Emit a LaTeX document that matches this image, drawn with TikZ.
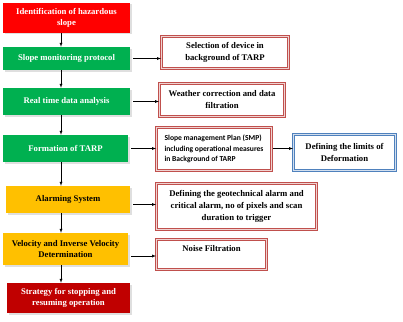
\documentclass[tikz,border=0pt]{standalone}
\usepackage{fontspec}
\setmainfont{Liberation Serif}
\newfontfamily\smpfont{Carlito}
\usetikzlibrary{shadows}
\definecolor{hazardred}{HTML}{FF0000}
\definecolor{stepgreen}{HTML}{00B050}
\definecolor{alarmyellow}{HTML}{FFC000}
\definecolor{stopred}{HTML}{C00000}
\definecolor{taskred}{HTML}{C0504D}
\definecolor{taskpink}{HTML}{EFD3D2}
\definecolor{limitblue}{HTML}{4F81BD}
\definecolor{limitsky}{HTML}{D3DFEE}
\begin{document}
\begin{tikzpicture}[>=latex, x=1pt, y=-1pt,
    stage/.style={fill=#1, text=white, font=\bfseries\fontsize{8.7}{11}\selectfont,
        align=center, inner sep=0pt,
        drop shadow={opacity=0.25, shadow xshift=1.5pt, shadow yshift=-1.5pt}},
    task/.style={draw=taskred, double=taskpink, line width=1pt, double distance=1.4pt,
        fill=white, font=\bfseries\fontsize{8.7}{12}\selectfont, align=center, inner sep=0pt},
    flow/.style={->, thin}]
    \useasboundingbox (0,0) rectangle (403,321);

    % 1. Các bước chính (cột trái)
    \node[stage=hazardred, minimum width=127pt, minimum height=30pt] (hazard) at (66.5,18) {Identification of hazardous\\slope};
    \node[stage=stepgreen, minimum width=127pt, minimum height=23pt] (monitor) at (66.5,58.5) {Slope monitoring protocol};
    \node[stage=stepgreen, minimum width=127pt, minimum height=27pt] (analysis) at (66.5,101.5) {Real time data analysis};
    \node[stage=stepgreen, minimum width=125pt, minimum height=27pt] (tarp) at (65.5,148.5) {Formation of TARP};
    \node[stage=alarmyellow, text=black, minimum width=124pt, minimum height=27pt] (alarm) at (68,199.5) {Alarming System};
    \node[stage=alarmyellow, text=black, minimum width=125pt, minimum height=32pt] (velocity) at (65.5,249) {Velocity and Inverse Velocity\\Determination};
    \node[stage=stopred, minimum width=123pt, minimum height=30pt] (strategy) at (68.5,298) {Strategy for stopping and\\resuming operation};

    % 2. Các ô chi tiết (cột phải)
    \node[task, minimum width=127pt, minimum height=32pt] (device) at (225,52.5) {Selection of device in\\background of TARP};
    \node[task, minimum width=125pt, minimum height=33pt] (weather) at (222,100) {Weather correction and data\\filtration};
    \node[task, minimum width=115pt, minimum height=43pt, align=left,
        font=\smpfont\bfseries\fontsize{7.6}{10.8}\selectfont] (smp) at (214,149) {Slope management Plan (SMP)\\including operational measures\\in Background of TARP};
    \node[task, draw=limitblue, double=limitsky, minimum width=102pt, minimum height=36pt] (limits) at (344.5,152.5) {Defining the limits of\\Deformation};
    \node[task, minimum width=160pt, minimum height=46pt] (trigger) at (236.5,206.5) {Defining the geotechnical alarm and\\critical alarm, no of pixels and scan\\duration to trigger};
    \node[task, minimum width=110pt, minimum height=30pt, text depth=13pt] (noise) at (211.5,254.5) {Noise Filtration};

    % 3. Mũi tên dọc
    \coordinate (spine) at (61,0);
    \foreach \a/\b in {hazard/monitor, monitor/analysis, analysis/tarp, tarp/alarm, alarm/velocity, velocity/strategy}
        \draw[flow] (\a.south -| spine) -- (\b.north -| spine);

    % 4. Mũi tên ngang
    \draw[flow, shorten <=3pt] (monitor.east) -- (monitor.east -| device.west);
    \draw[flow, shorten <=3pt] (analysis.east) -- (analysis.east -| weather.west);
    \draw[flow, shorten <=3pt] (tarp.east) -- (tarp.east -| smp.west);
    \draw[flow, shorten <=1pt] (smp.east |- tarp.east) -- (tarp.east -| limits.west);
    \draw[flow, shorten <=3pt] ([yshift=-5pt]alarm.east) -- ([yshift=-5pt]alarm.east -| trigger.west);
    \draw[flow, shorten <=3pt] ([yshift=-7pt]velocity.east) -- ([yshift=-7pt]velocity.east -| noise.west);
\end{tikzpicture}
\end{document}
